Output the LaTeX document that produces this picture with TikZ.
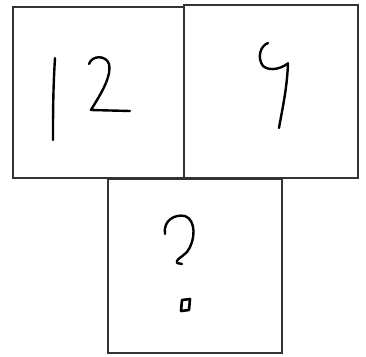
\documentclass[tikz,border=0pt]{standalone}
\begin{document}
\begin{tikzpicture}[x=1pt,y=-1pt,
  box/.style={draw=black!80,line width=1.3pt},
  ink/.style={draw=black,line width=2.4pt,line cap=round,line join=round}]
\useasboundingbox[fill=white] (0,0) rectangle (366,356);
% boxes
\draw[box] (13,7) rectangle (184,178);
\draw[box] (184,5) rectangle (358,178);
\draw[box] (108,179) rectangle (282,353);
% "1"
\draw[ink] (55,58) .. controls (53,90) and (53,115) .. (53,140);
% "2"
\draw[ink] (89,64) .. controls (92,55) and (106,55) .. (109,64)
  .. controls (112,78) and (98,98) .. (91,110)
  -- (130,111);
% "9"
\draw[ink] (268,43) .. controls (260,46) and (257,58) .. (263,66)
  .. controls (270,72) and (282,68) .. (287,64);
\draw[ink] (288,63) .. controls (287,90) and (282,110) .. (279,128);
% "?"
\draw[ink] (165,234) .. controls (163,220) and (175,214) .. (185,216)
  .. controls (196,220) and (196,240) .. (187,252)
  .. controls (182,257) and (175,260) .. (177,263)
  -- (182,264);
% dot
\draw[ink,line width=2.6pt] (182,300) -- (190,299) -- (189,310) -- (181,311) -- cycle;
\end{tikzpicture}
\end{document}
